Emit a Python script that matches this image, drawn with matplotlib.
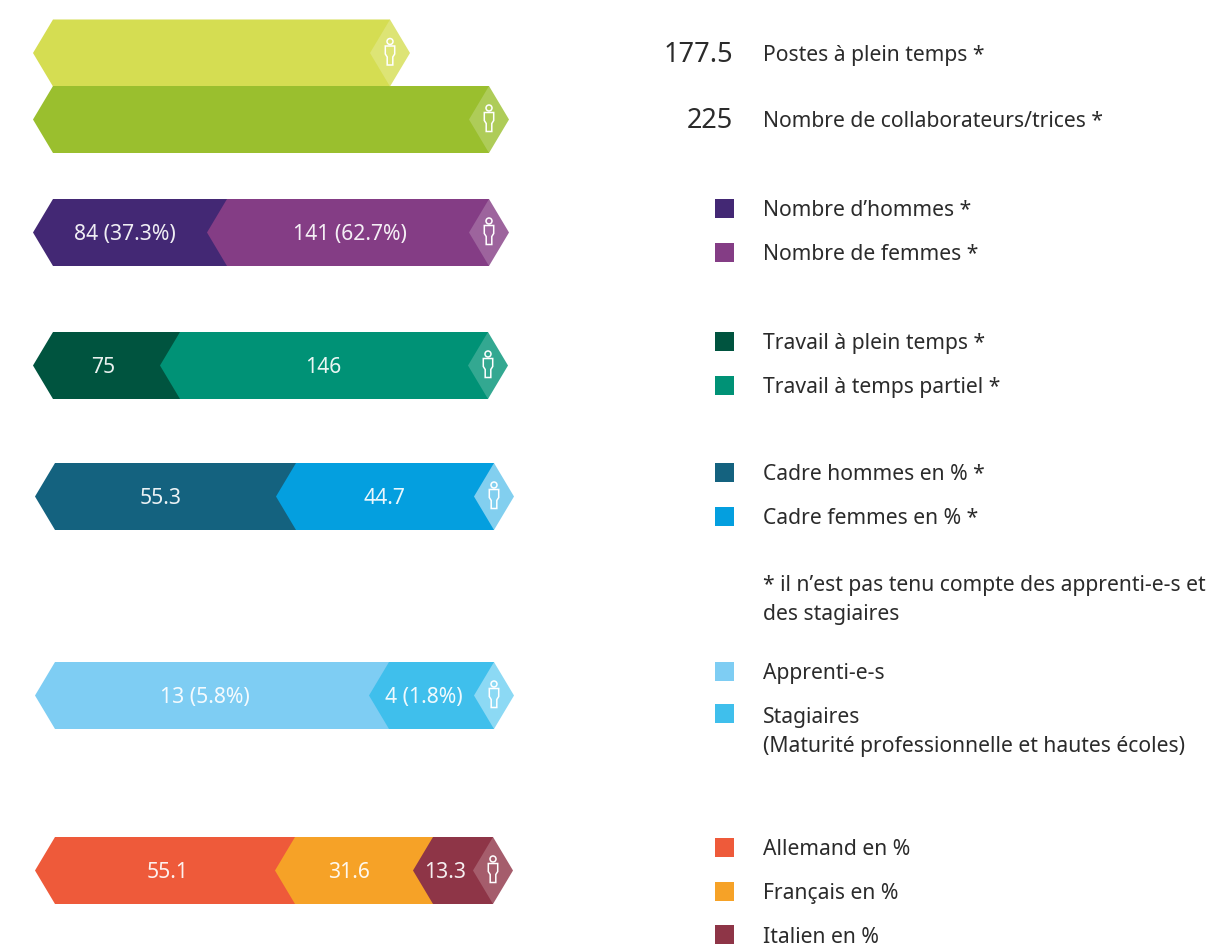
import matplotlib
matplotlib.use("Agg")
import matplotlib.pyplot as plt
from matplotlib.colors import to_rgb
from matplotlib.patches import Polygon, Circle, Rectangle

plt.rcParams['font.family'] = ['Noto Sans', 'DejaVu Sans']

# --- data ---
# drawn lengths of the segments along the axis (the source graphic is not strictly proportional)
posts_len = [377]
staff_len = [476]
gender_len = [174, 302]
worktime_len = [127, 348]
mgmt_len = [241, 238]
trainee_len = [334, 145]
lang_len = [240, 138, 100]

posts_labels = [""]
staff_labels = [""]
gender_labels = ["84 (37.3%)", "141 (62.7%)"]
worktime_labels = ["75", "146"]
mgmt_labels = ["55.3", "44.7"]
trainee_labels = ["13 (5.8%)", "4 (1.8%)"]
lang_labels = ["55.1", "31.6", "13.3"]

posts_colors = ["#D5DD52"]
staff_colors = ["#9ABF2E"]
gender_colors = ["#432874", "#843D85"]
worktime_colors = ["#00543F", "#009276"]
mgmt_colors = ["#14627F", "#049FDF"]
trainee_colors = ["#7ECDF3", "#3FBFEC"]
lang_colors = ["#EE5A3A", "#F6A227", "#8E3547"]

legend_text = ["Nombre d\u2019hommes *", "Nombre de femmes *", "Travail \u00e0 plein temps *",
               "Travail \u00e0 temps partiel *", "Cadre hommes en % *", "Cadre femmes en % *",
               "Apprenti-e-s", "Stagiaires\n(Maturit\u00e9 professionnelle et hautes \u00e9coles)",
               "Allemand en %", "Fran\u00e7ais en %", "Italien en %"]
legend_colors = gender_colors + worktime_colors + mgmt_colors + trainee_colors + lang_colors
legend_y = [208, 252, 341, 385, 472, 516, 671, 713, 847, 891, 934.5]

# --- layout ---
W, H = 1211, 946
TIP = 20
HALF = 33.5
fig = plt.figure(figsize=(W / 100, H / 100), dpi=100)
ax = fig.add_axes([0, 0, 1, 1])
ax.set_xlim(0, W)
ax.set_ylim(H, 0)
ax.axis('off')

FS_BAR = 15.2
FS_LEG = 15.2
TXT = "#2B2B2B"


def segment(x0, x1, yc, color, z):
    # arrow point on the left, flat on the right: the diamond closes the bar's right end
    pts = [(x0, yc), (x0 + TIP, yc - HALF), (x1 - TIP, yc - HALF),
           (x1 - TIP, yc + HALF), (x0 + TIP, yc + HALF)]
    ax.add_patch(Polygon(pts, closed=True, fc=color, ec='none', zorder=z))


def person(cx, yc, base, alpha):
    tint = tuple(c + (1 - c) * alpha for c in to_rgb(base))
    ax.add_patch(Polygon([(cx, yc - HALF), (cx + TIP, yc), (cx, yc + HALF), (cx - TIP, yc)],
                         closed=True, fc=tint, ec='none', zorder=5))
    ax.add_patch(Circle((cx, yc - 11.5), 3.0, fc='none', ec='white', lw=1.1, zorder=6))
    body = [(cx - 4.7, yc - 7), (cx + 4.7, yc - 7), (cx + 4.7, yc + 1), (cx + 2.8, yc + 4),
            (cx + 2.8, yc + 12), (cx - 2.8, yc + 12), (cx - 2.8, yc + 4), (cx - 4.7, yc + 1)]
    ax.add_patch(Polygon(body, closed=True, fc='none', ec='white', lw=1.1, zorder=6))


def bar(start, yc, lengths, colors, labels, label_x, alpha=0.2):
    total = start + sum(lengths)
    x = start
    for i, (l, c) in enumerate(zip(lengths, colors)):
        segment(x, total, yc, c, 2 + i * 0.1)
        x += l
    person(total - TIP, yc, colors[-1], alpha)
    for t, lx in zip(labels, label_x):
        if t:
            ax.text(lx, yc - 1, t, color=(1, 1, 1, 0.92), fontsize=FS_BAR, ha='center',
                    va='center_baseline', zorder=7)


bar(33, 53, posts_len, posts_colors, posts_labels, [0])
bar(33, 119.5, staff_len, staff_colors, staff_labels, [0])
bar(33, 232.5, gender_len, gender_colors, gender_labels, [125, 350])
bar(33, 365.5, worktime_len, worktime_colors, worktime_labels, [103, 323])
bar(35, 496.5, mgmt_len, mgmt_colors, mgmt_labels, [161, 384], alpha=0.5)
bar(35, 695.5, trainee_len, trainee_colors, trainee_labels, [205, 424], alpha=0.4)
bar(35, 870.5, lang_len, lang_colors, lang_labels, [168, 349, 445])

# headline values
ax.text(733, 52, "177.5", fontsize=19.5, color=TXT, ha='right', va='center_baseline')
ax.text(733, 118, "225", fontsize=19.5, color=TXT, ha='right', va='center_baseline')
ax.text(763, 53, "Postes \u00e0 plein temps *", fontsize=FS_LEG, color=TXT, va='center_baseline')
ax.text(763, 119, "Nombre de collaborateurs/trices *", fontsize=FS_LEG, color=TXT, va='center_baseline')

# legend
for t, c, y in zip(legend_text, legend_colors, legend_y):
    ax.add_patch(Rectangle((715, y - 9.5), 19, 19, fc=c, ec='none', zorder=3))
    if "\n" in t:
        a, b = t.split("\n")
        ax.text(763, y + 2, a, fontsize=FS_LEG, color=TXT, va='center_baseline')
        ax.text(763, y + 31, b, fontsize=FS_LEG, color=TXT, va='center_baseline')
    else:
        ax.text(763, y, t, fontsize=FS_LEG, color=TXT, va='center_baseline')

ax.text(763, 583, "* il n\u2019est pas tenu compte des apprenti-e-s et", fontsize=FS_LEG, color=TXT, va='center_baseline')
ax.text(763, 612, "des stagiaires", fontsize=FS_LEG, color=TXT, va='center_baseline')

fig.savefig("out.png", dpi=100)
